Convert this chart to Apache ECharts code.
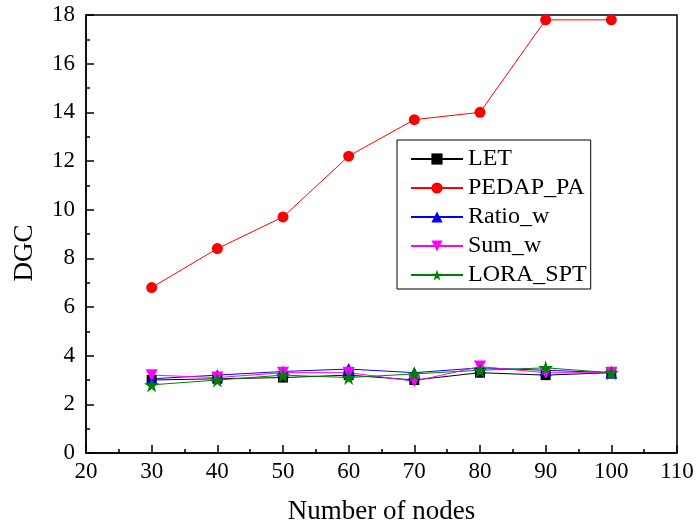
<!DOCTYPE html>
<html>
<head>
<meta charset="utf-8">
<script src="https://cdn.jsdelivr.net/npm/echarts@6/dist/echarts.min.js"></script>
<style>html,body{margin:0;padding:0;background:#fff}#c{width:697px;height:530px}</style>
</head>
<body>
<div id="c"></div>
<script>
const nodes = [30, 40, 50, 60, 70, 80, 90, 100];
const LET = [3.0, 3.05, 3.1, 3.2, 3.0, 3.3, 3.2, 3.3];
const PEDAP_PA = [6.8, 8.4, 9.7, 12.2, 13.7, 14.0, 17.8, 17.8];
const Ratio_w = [3.05, 3.2, 3.35, 3.45, 3.3, 3.5, 3.4, 3.3];
const Sum_w = [3.2, 3.1, 3.3, 3.3, 2.95, 3.55, 3.3, 3.3];
const LORA_SPT = [2.8, 3.0, 3.2, 3.1, 3.25, 3.4, 3.5, 3.3];

const seriesNames = ['LET', 'PEDAP_PA', 'Ratio_w', 'Sum_w', 'LORA_SPT'];
const seriesData = [LET, PEDAP_PA, Ratio_w, Sum_w, LORA_SPT];
const colors = ['#000000', '#ff0000', '#0000ff', '#ff00ff', '#008000'];
const symbols = ['rect', 'circle', 'triangle', 'path://M0,0 L10,0 L5,10 Z', 'path://M50,0 L61,35 L98,35 L68,57 L79,91 L50,70 L21,91 L32,57 L2,35 L39,35 Z'];
const sizes = [10, 11, 12, 12, 15];

const font = '"Liberation Serif", "Times New Roman", serif';
const chart = echarts.init(document.getElementById('c'));
chart.setOption({
  animation: false,
  textStyle: { fontFamily: font },
  grid: { left: 86, right: 20, top: 15, bottom: 77, show: true, borderColor: '#000', borderWidth: 1.5 },
  legend: {
    orient: 'vertical', left: 397, top: 140,
    padding: [7, 4, 2, 13],
    itemWidth: 52, itemHeight: 14, itemGap: 5,
    borderColor: '#000', borderWidth: 1,
    textStyle: { fontFamily: font, fontSize: 24, color: '#000', lineHeight: 24 },
    data: seriesNames
  },
  xAxis: {
    type: 'value', min: 20, max: 110, interval: 10,
    name: 'Number of nodes', nameLocation: 'middle', nameGap: 45,
    nameTextStyle: { fontFamily: font, fontSize: 27, color: '#000' },
    axisLine: { onZero: false, lineStyle: { color: '#000', width: 1.5 } },
    axisTick: { inside: true, length: 8, lineStyle: { color: '#000', width: 1.5 } },
    minorTick: { show: true, splitNumber: 2, length: 4, lineStyle: { color: '#000', width: 1.5 } },
    axisLabel: { fontFamily: font, fontSize: 23, color: '#000', margin: 7 },
    splitLine: { show: false }
  },
  yAxis: {
    type: 'value', min: 0, max: 18, interval: 2,
    name: 'DGC', nameLocation: 'middle', nameGap: 48,
    nameTextStyle: { fontFamily: font, fontSize: 27, color: '#000', padding: [0, 38, 0, 0] },
    axisLine: { onZero: false, lineStyle: { color: '#000', width: 1.5 } },
    axisTick: { inside: true, length: 8, lineStyle: { color: '#000', width: 1.5 } },
    minorTick: { show: true, splitNumber: 2, length: 4, lineStyle: { color: '#000', width: 1.5 } },
    axisLabel: { fontFamily: font, fontSize: 23, color: '#000', margin: 11 },
    splitLine: { show: false }
  },
  series: seriesNames.map((n, i) => ({
    name: n, type: 'line',
    data: nodes.map((x, j) => [x, seriesData[i][j]]),
    symbol: symbols[i], symbolSize: sizes[i],
    showAllSymbol: true,
    itemStyle: { color: colors[i] },
    lineStyle: { color: colors[i], width: 1 }
  }))
});
</script>
</body>
</html>
